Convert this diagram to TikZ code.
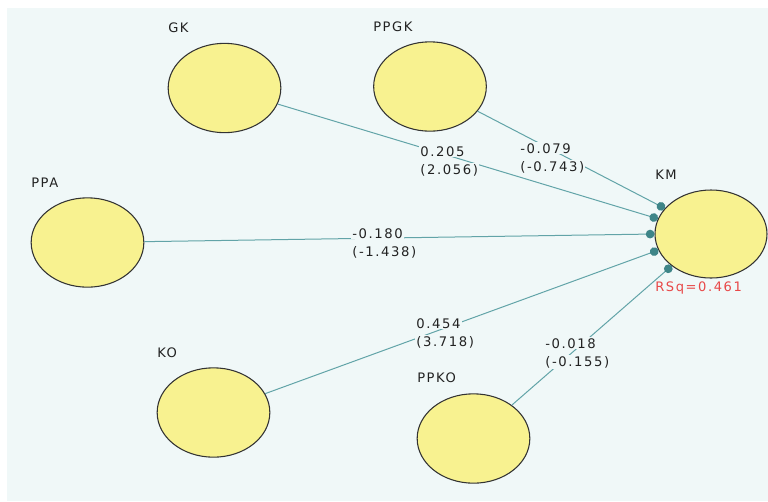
\documentclass[tikz,border=0pt]{standalone}
\usepackage{fontspec}
\setmainfont{DejaVu Sans}[LetterSpace=12]
\usetikzlibrary{arrows.meta,shapes.geometric}
\definecolor{bgc}{HTML}{F0F8F8}
\definecolor{ellfill}{HTML}{F8F290}
\definecolor{ellline}{HTML}{333333}
\definecolor{linec}{HTML}{62A4A8}
\definecolor{tipc}{HTML}{3E8588}
\definecolor{txtc}{HTML}{222222}
\definecolor{rsqc}{HTML}{E84848}
\newcommand{\cbx}[1]{{\setlength{\fboxsep}{0.8pt}\colorbox{bgc}{#1}}}
\begin{document}
\begin{tikzpicture}[x=0.75pt,y=-0.75pt,
  latent/.style={ellipse,draw=ellline,line width=0.8pt,fill=ellfill,minimum width=84.5pt,minimum height=67pt,inner sep=0pt},
  vname/.style={anchor=west,text=txtc,font=\fontsize{9.8pt}{11pt}\selectfont,inner sep=0pt},
  path/.style={draw=linec,line width=0.75pt,-{Circle[length=6.5pt,color=tipc,fill=tipc]}},
  coef/.style={anchor=west,align=left,text=txtc,inner sep=0pt,font=\fontsize{9.9pt}{13.5pt}\selectfont}
]
\useasboundingbox (0,0) rectangle (768,501);
\fill[bgc] (7,8) rectangle (768,501);
\node[latent] (GK) at (224.5,88) {};
\node[latent] (PPGK) at (430,86.5) {};
\node[latent] (PPA) at (87.5,242.5) {};
\node[latent] (KO) at (213.5,412.5) {};
\node[latent] (PPKO) at (473.5,438.5) {};
\node[latent,minimum width=84pt,minimum height=66pt] (KM) at (711,234) {};
\node[vname] (lGK) at (168,28) {GK};
\node[vname] (lPPGK) at (373,27) {PPGK};
\node[vname] (lPPA) at (31,183) {PPA};
\node[vname] (lKO) at (157,353) {KO};
\node[vname] (lPPKO) at (417,378) {PPKO};
\node[vname] (lKM) at (655,175) {KM};
\node[vname,text=rsqc] (rsq) at (655,288) {RSq=0.461};
\path[path] (GK) -- (KM.164);
\path[path] (PPGK) -- (KM.151);
\path[path] (PPA) -- (KM.180);
\path[path] (KO) -- (KM.197);
\path[path] (PPKO) -- (KM.219);
\node[coef] (cGK) at (419,161) {\cbx{0.205}\\\cbx{(2.056)}};
\node[coef] (cPPGK) at (519,158) {\cbx{-0.079}\\\cbx{(-0.743)}};
\node[coef] (cPPA) at (351,243) {\cbx{-0.180}\\\cbx{(-1.438)}};
\node[coef] (cKO) at (415,333) {\cbx{0.454}\\\cbx{(3.718)}};
\node[coef] (cPPKO) at (544,353) {\cbx{-0.018}\\\cbx{(-0.155)}};
\end{tikzpicture}
\end{document}
